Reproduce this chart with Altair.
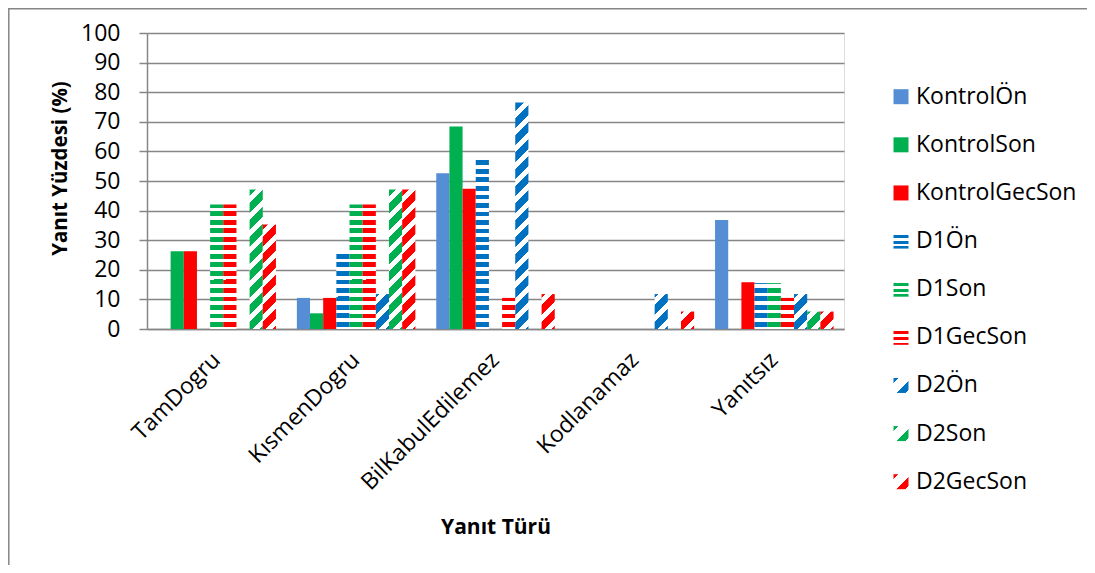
import math
import altair as alt

# ---------------- data ----------------
categories = ["TamDogru", "KısmenDogru", "BilKabulEdilemez", "Kodlanamaz", "Yanıtsız"]
series = ["KontrolÖn", "KontrolSon", "KontrolGecSon", "D1Ön", "D1Son", "D1GecSon",
          "D2Ön", "D2Son", "D2GecSon"]

kontrol_on = [0, 10.5, 52.6, 0, 36.8]
kontrol_son = [26.3, 5.3, 68.4, 0, 0]
kontrol_gecson = [26.3, 10.5, 47.4, 0, 15.8]
d1_on = [0, 26.3, 58.0, 0, 15.5]
d1_son = [42.1, 42.1, 0, 0, 15.5]
d1_gecson = [42.1, 42.1, 10.5, 0, 10.5]
d2_on = [0, 11.8, 76.5, 11.8, 11.8]
d2_son = [47.1, 47.1, 0, 0, 5.9]
d2_gecson = [35.3, 47.1, 11.8, 5.9, 5.9]

values = [kontrol_on, kontrol_son, kontrol_gecson, d1_on, d1_son, d1_gecson,
          d2_on, d2_son, d2_gecson]

# ---------------- style ----------------
W, H = 697, 296
FONT = "Open Sans"
GRID = "#868686"
colors = ["#558ED5", "#00B050", "#FF0000", "#0070C0", "#00B050", "#FF0000",
          "#0070C0", "#00B050", "#FF0000"]
patterns = ["solid", "solid", "solid", "h", "h", "h", "d", "d", "d"]
PAD_INNER, PAD_OUTER = 0.15, 0.075
BAR_W = W / 5 * (1 - PAD_INNER) / 9


def clamp(v):
    return max(0.0, min(1.0, v))


def stripe_stops(lo, hi, period, duty, color, bg="#FFFFFF"):
    stops = []
    span = hi - lo
    start = math.floor(lo / period) * period
    while start < hi:
        for a, b, col in ((start, start + duty, color), (start + duty, start + period, bg)):
            o0, o1 = clamp((a - lo) / span), clamp((b - lo) / span)
            if o1 > o0:
                stops.append({"offset": round(o0, 5), "color": col})
                stops.append({"offset": round(o1, 5), "color": col})
        start += period
    return stops


def make_fill(pattern, color, w, h, top, hp=8.5, hd=4.7, dp=17.0, dd=10.0):
    if pattern == "solid" or h <= 0:
        return color
    if pattern == "h":
        return {"gradient": "linear", "x1": 0, "y1": 0, "x2": 0.000001, "y2": 1,
                "stops": stripe_stops(top, top + h, hp, hd, color)}
    k = (w + h) / (w * w + h * h)
    return {"gradient": "linear", "x1": 0, "y1": 0, "x2": w * k, "y2": h * k,
            "stops": stripe_stops(top, top + w + h, dp, dd, color)}


records = []
for ci, cat in enumerate(categories):
    for si, s in enumerate(series):
        v = values[si][ci]
        h = v / 100 * H
        records.append({"cat": cat, "series": s, "value": v,
                        "fill": make_fill(patterns[si], colors[si], BAR_W, h, H - h)})

legend_records = []
for si, s in enumerate(series):
    legend_records.append({"series": s,
                           "fill": make_fill(patterns[si], colors[si], 15, 15, 4,
                                             hp=5.6, hd=3.0, dp=22.0, dd=9.0)})

bars = alt.Chart(alt.Data(values=records)).mark_bar(strokeWidth=0).encode(
    x=alt.X("cat:N", sort=categories,
            scale=alt.Scale(paddingInner=PAD_INNER, paddingOuter=PAD_OUTER),
            axis=alt.Axis(title="Yanıt Türü", labelAngle=-45, labelAlign="right",
                          labelBaseline="middle", labelPadding=27, labelFontSize=23,
                          labelLimit=0, labelOverlap=False,
                          labelFont=FONT, labelColor="#000000", ticks=False,
                          domainColor=GRID, domainWidth=1.5, grid=False,
                          titleFont=FONT, titleFontSize=21, titleFontWeight="bold",
                          titleColor="#000000", titleY=198, titleBaseline="middle")),
    xOffset=alt.XOffset("series:N", sort=series),
    y=alt.Y("value:Q", scale=alt.Scale(domain=[0, 100], nice=False),
            axis=alt.Axis(title="Yanıt Yüzdesi (%)", values=list(range(0, 101, 10)),
                          labelFontSize=23, labelFont=FONT, labelColor="#000000",
                          labelPadding=19, tickSize=8, tickColor=GRID, tickWidth=1.5,
                          domainColor=GRID, domainWidth=1.5, gridColor=GRID, gridWidth=1.5,
                          titleFont=FONT, titleFontSize=20.5, titleFontWeight="bold",
                          titleColor="#000000", titleX=-87, titleY=135,
                          titleBaseline="middle")),
    fill=alt.Fill("fill:N", scale=None),
)

legend_y = alt.Y("series:N", sort=series,
                 scale=alt.Scale(type="point", domain=series, range=[63.7, 448.7], padding=0),
                 axis=None)

legend_sym = alt.Chart(alt.Data(values=legend_records)).mark_square(
    size=225, opacity=1, strokeWidth=0).encode(
    x=alt.value(754), y=legend_y, fill=alt.Fill("fill:N", scale=None))

legend_txt = alt.Chart(alt.Data(values=legend_records)).mark_text(
    align="left", baseline="middle", font=FONT, fontSize=23, color="#000000").encode(
    x=alt.value(769), y=legend_y, text="series:N")

border_left = alt.Chart(alt.Data(values=[{"a": 1}])).mark_rule(
    color=GRID, strokeWidth=1.5).encode(
    x=alt.value(-138.2), y=alt.value(-25), y2=alt.value(H + 240))
border_top = alt.Chart(alt.Data(values=[{"a": 1}])).mark_rule(
    color=GRID, strokeWidth=1.5).encode(
    x=alt.value(-139), x2=alt.value(W + 250), y=alt.value(-24.2))

chart = alt.layer(bars, legend_sym, legend_txt, border_left, border_top).resolve_scale(
    y="independent"
).properties(
    width=W, height=H,
    autosize=alt.AutoSizeParams(type="none"),
    padding={"left": 139, "top": 25, "right": 243, "bottom": 236},
).configure_view(stroke=None).configure(background="#FFFFFF")

chart.save("out.html", embed_options={"renderer": "svg", "actions": False})
